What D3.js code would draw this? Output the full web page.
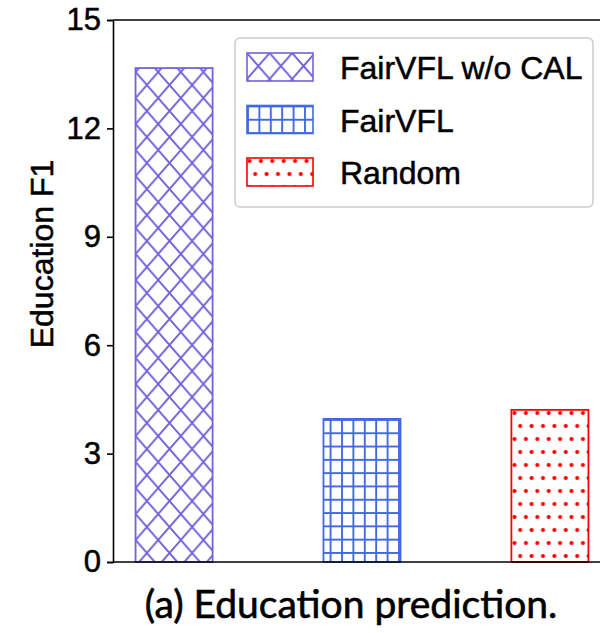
<!DOCTYPE html>
<html>
<head>
<meta charset="utf-8">
<script src="https://cdn.jsdelivr.net/npm/d3@7"></script>
<style>
  body { margin: 0; background: #fff; }
  .helv { font-family: "Liberation Sans", Arimo, Arial, Helvetica, "DejaVu Sans"; stroke: #000; stroke-width: 0.5px; }
</style>
</head>
<body>
<div id="canvas"></div>
<script>
const methods = ["FairVFL w/o CAL", "FairVFL", "Random"];
const f1Values = [13.67, 3.96, 4.21];
const yTicks = [0, 3, 6, 9, 12, 15];
const colors = ["#7262dc", "#4169e1", "#ff0000"];
const hatches = ["cross", "grid", "dots"];

const width = 600;
const height = 633;
const margin = { top: 20, left: 113, bottom: 71, right: -11 };
const iwidth = width - margin.left - margin.right;
const iheight = height - margin.top - margin.bottom;

const svg = d3.select("#canvas").append("svg")
  .attr("width", width)
  .attr("height", height);

// hatch patterns
const defs = svg.append("defs");
const pCross = defs.append("pattern").attr("id", "cross")
  .attr("patternUnits", "userSpaceOnUse").attr("width", 22.6).attr("height", 26);
pCross.append("path").attr("d", "M0,0L22.6,26M22.6,0L0,26")
  .attr("stroke", colors[0]).attr("stroke-width", 1.9).attr("fill", "none");
const pGrid = defs.append("pattern").attr("id", "grid")
  .attr("patternUnits", "userSpaceOnUse").attr("width", 11.4).attr("height", 13.3);
pGrid.append("path").attr("d", "M1,0V13.3M0,1H11.4")
  .attr("stroke", colors[1]).attr("stroke-width", 1.9).attr("fill", "none");
const pDots = defs.append("pattern").attr("id", "dots")
  .attr("patternUnits", "userSpaceOnUse").attr("width", 11.4).attr("height", 26);
pDots.append("circle").attr("cx", 2.5).attr("cy", 3).attr("r", 2.1).attr("fill", colors[2]);
pDots.append("circle").attr("cx", 8.2).attr("cy", 16).attr("r", 2.1).attr("fill", colors[2]);

const g = svg.append("g").attr("transform", `translate(${margin.left},${margin.top})`);

const x = d3.scaleLinear().domain([-0.325, 2.325]).range([0, iwidth]);
const y = d3.scaleLinear().domain([0, 15]).range([iheight, 0]);
const barW = x(0.41) - x(0);

g.selectAll("rect.bar").data(f1Values).enter().append("rect")
  .attr("class", "bar")
  .attr("x", (d, i) => x(i) - barW / 2)
  .attr("y", d => y(d))
  .attr("width", barW)
  .attr("height", d => y(0) - y(d))
  .attr("fill", (d, i) => `url(#${hatches[i]})`)
  .attr("stroke", (d, i) => colors[i])
  .attr("stroke-width", 1.8);

// axes
const yAxis = g.append("g")
  .call(d3.axisLeft(y).tickValues(yTicks).tickSize(6).tickPadding(6))
  .attr("font-family", null).attr("font-size", null);
yAxis.selectAll("text").attr("class", "helv")
  .style("font-size", "31px").attr("fill", "#000");
yAxis.select(".domain").attr("stroke", "#000").attr("stroke-width", 1.6);
yAxis.selectAll(".tick line").attr("stroke", "#000").attr("stroke-width", 1.6);

g.append("line").attr("x1", 0).attr("x2", iwidth).attr("y1", iheight).attr("y2", iheight)
  .attr("stroke", "#000").attr("stroke-width", 1.6);
g.append("line").attr("x1", 0).attr("x2", iwidth).attr("y1", 0).attr("y2", 0)
  .attr("stroke", "#000").attr("stroke-width", 1.6);

svg.append("text")
  .attr("class", "helv")
  .attr("transform", "translate(53,254) rotate(-90)")
  .attr("text-anchor", "middle")
  .style("font-size", "32px")
  .text("Education F1");

// legend
const lg = svg.append("g").attr("transform", "translate(235,38)");
lg.append("rect").attr("width", 358).attr("height", 169).attr("rx", 5)
  .attr("fill", "#fff").attr("stroke", "#cccccc").attr("stroke-width", 1.5);
methods.forEach((m, i) => {
  const row = lg.append("g").attr("transform", `translate(12,${15 + i * 52.5})`);
  row.append("rect").attr("width", 66).attr("height", 28)
    .attr("fill", `url(#${hatches[i]})`).attr("stroke", colors[i]).attr("stroke-width", 1.6);
  row.append("text").attr("class", "helv").attr("x", 93).attr("y", 26)
    .style("font-size", "32px")
    .text(m);
});

// caption
svg.append("text")
  .attr("x", 351).attr("y", 618)
  .attr("text-anchor", "middle")
  .style("font-family", "Lato, 'Open Sans', sans-serif")
  .style("font-size", "39px")
  .style("stroke", "#000").style("stroke-width", "0.6px")
  .text("(a) Education prediction.");
</script>
</body>
</html>
